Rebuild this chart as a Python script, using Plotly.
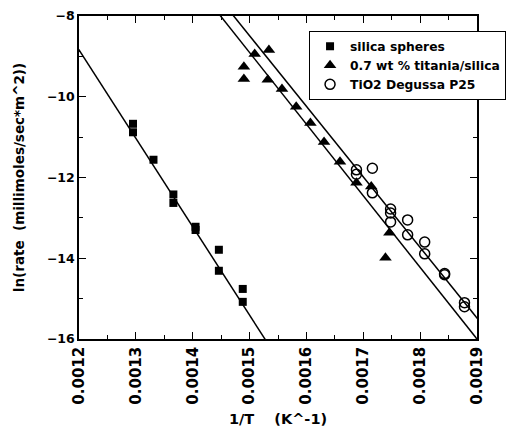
import plotly.graph_objects as go
import numpy as np

# silica spheres
silica_x = [0.001295, 0.001295, 0.001331, 0.001366, 0.001366, 0.001405, 0.001405,
            0.001446, 0.001446, 0.001488, 0.001488]
silica_y = [-10.67, -10.88, -11.56, -12.42, -12.63, -13.22, -13.30,
            -13.79, -14.31, -14.76, -15.08]

# 0.7 wt % titania/silica
titania_x = [0.001490, 0.001490, 0.001509, 0.001534, 0.001532, 0.001557, 0.001582,
             0.001607, 0.001631, 0.001659, 0.001688, 0.001714, 0.001746, 0.001739]
titania_y = [-9.26, -9.56, -8.94, -8.84, -9.58, -9.81, -10.25,
             -10.65, -11.12, -11.61, -12.13, -12.22, -13.37, -13.99]

# TiO2 Degussa P25
tio2_x = [0.001688, 0.001688, 0.001716, 0.001716, 0.001748, 0.001748, 0.001748,
          0.001778, 0.001778, 0.001808, 0.001808, 0.001843, 0.001843, 0.001878, 0.001878]
tio2_y = [-11.81, -11.92, -11.77, -12.38, -12.78, -12.88, -13.10,
          -13.05, -13.42, -13.60, -13.89, -14.38, -14.41, -15.10, -15.20]

# fitted lines (slope, intercept)
fit_names = ["silica", "titania", "tio2"]
fit_slope = [-21896.0, -17740.0, -17480.0]
fit_intercept = [17.435, 17.705, 17.731]

x_ticks = [0.0012, 0.0013, 0.0014, 0.0015, 0.0016, 0.0017, 0.0018, 0.0019]
x_tick_labels = ["0.0012", "0.0013", "0.0014", "0.0015", "0.0016", "0.0017", "0.0018", "0.0019"]
y_ticks = [-16, -14, -12, -10, -8]

FONT = "DejaVu Sans, Verdana, sans-serif"

fig = go.Figure()

xl = np.linspace(0.0011, 0.0020, 50)
for s, b in zip(fit_slope, fit_intercept):
    fig.add_trace(go.Scatter(x=xl, y=s * xl + b, mode="lines",
                             line=dict(color="black", width=1.5),
                             showlegend=False, hoverinfo="skip"))

fig.add_trace(go.Scatter(x=silica_x, y=silica_y, mode="markers", name="silica spheres",
                         marker=dict(symbol="square", size=8, color="black")))
fig.add_trace(go.Scatter(x=titania_x, y=titania_y, mode="markers", name="0.7 wt % titania/silica",
                         marker=dict(symbol="triangle-up", size=11, color="black")))
fig.add_trace(go.Scatter(x=tio2_x, y=tio2_y, mode="markers", name="TiO2 Degussa P25",
                         marker=dict(symbol="circle-open", size=10, color="black",
                                     line=dict(color="black", width=1.5))))

axis_common = dict(showgrid=False, zeroline=False, showline=True, linecolor="black",
                   linewidth=1.5, mirror="ticks", ticks="inside", ticklen=7, tickwidth=1.2,
                   tickcolor="black", automargin=False)

fig.update_xaxes(range=[0.0012, 0.0019], tickvals=x_ticks, ticktext=x_tick_labels,
                 tickangle=-90,
                 tickfont=dict(family=FONT, size=15, color="black", weight="bold"),
                 minor=dict(dtick=0.00005, ticks="inside", ticklen=4, tickcolor="black", tickwidth=1),
                 title=dict(text="1/T    (K^-1)",
                            font=dict(family=FONT, size=14.5, color="black", weight="bold"),
                            standoff=10),
                 **axis_common)
fig.update_yaxes(range=[-16, -8], tickvals=y_ticks,
                 tickfont=dict(family=FONT, size=12.5, color="black", weight="bold"),
                 minor=dict(dtick=1, ticks="inside", ticklen=4, tickcolor="black", tickwidth=1),
                 title=dict(text="ln(rate  (millimoles/sec*m^2))",
                            font=dict(family=FONT, size=13.5, color="black", weight="bold"),
                            standoff=19),
                 **axis_common)

fig.update_layout(
    width=519, height=428,
    margin=dict(l=71, r=50, t=8, b=97),
    paper_bgcolor="white", plot_bgcolor="white",
    legend=dict(x=0.578, y=0.954, xanchor="left", yanchor="top",
                bgcolor="white", bordercolor="black", borderwidth=1,
                font=dict(family=FONT, size=12.3, color="black", weight="bold"),
                itemsizing="trace", tracegroupgap=0,
                entrywidth=165, entrywidthmode="pixels"),
)

fig.write_html("out.html")
